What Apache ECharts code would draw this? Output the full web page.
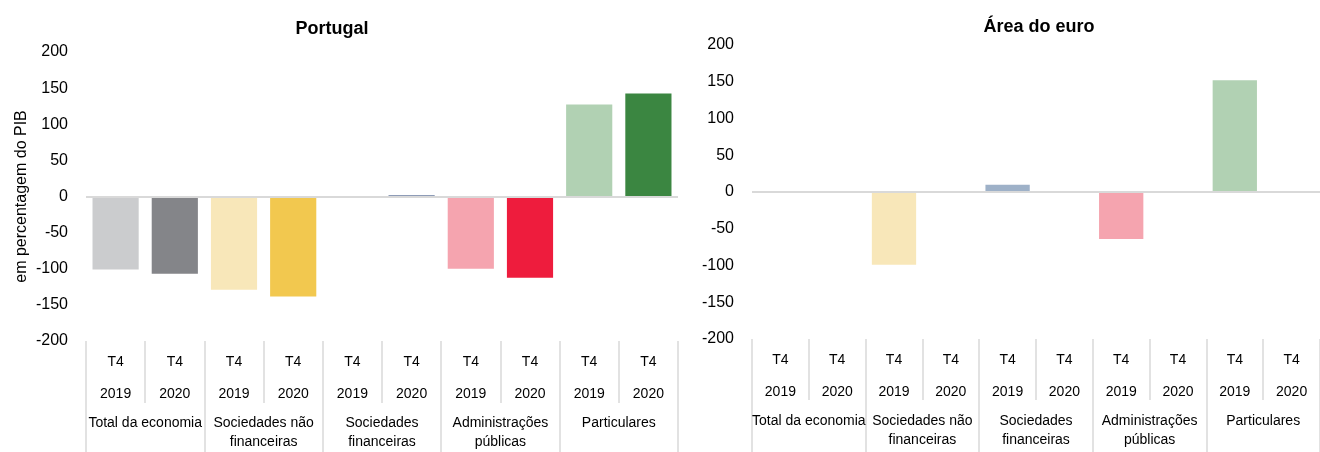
<!DOCTYPE html>
<html>
<head>
<meta charset="utf-8">
<title>Portugal / Área do euro</title>
<script src="https://cdn.jsdelivr.net/npm/echarts@6/dist/echarts.min.js"></script>
<style>
    html, body { margin: 0; padding: 0; background: #fff; }
    #chart { width: 1320px; height: 452px; }
</style>
</head>
<body>
<div id="chart"></div>
<script>
// dados
var sectors = ['Total da economia', 'Sociedades não\nfinanceiras', 'Sociedades\nfinanceiras', 'Administrações\npúblicas', 'Particulares'];
var quarters = ['T4', 'T4', 'T4', 'T4', 'T4', 'T4', 'T4', 'T4', 'T4', 'T4'];
var years = ['2019', '2020', '2019', '2020', '2019', '2020', '2019', '2020', '2019', '2020'];
var portugalValues = [-101, -107, -129, -138.5, null, 1.5, -100, -112.5, 127.5, 142.5];
var euroValues = [null, null, -99, null, 10, null, -64, null, 152, null];
var barColors = ['#CBCCCE', '#848589', '#F8E7B9', '#F2C84F', '#9EB1C8', '#1F3B70', '#F5A4AF', '#EE1C3D', '#B1D1B3', '#3B8641'];
var yTicks = { min: -200, max: 200, interval: 50 };

var narrow = "'Liberation Sans Narrow', 'Arial Narrow', 'Liberation Sans', Arial, sans-serif";
var regular = "'Liberation Sans', Arial, sans-serif";
var sepColor = '#D9D9D9';

var chart = echarts.init(document.getElementById('chart'));

// categoria: "T4" / ano em duas linhas
var catLabels = quarters.map(function (q, i) { return q + '\n' + years[i]; });

function xAxesFor(gridIndex, shortTick) {
    return [
        {
            gridIndex: gridIndex,
            type: 'category',
            position: 'bottom',
            data: catLabels,
            axisLine: { show: false, onZero: false },
            axisTick: { show: true, length: shortTick, lineStyle: { color: sepColor, width: 1.5 } },
            axisLabel: {
                interval: 0,
                margin: 5,
                color: '#000',
                fontFamily: narrow,
                fontSize: 14,
                lineHeight: 32
            }
        },
        {
            gridIndex: gridIndex,
            type: 'category',
            position: 'bottom',
            data: sectors,
            axisLine: { show: false, onZero: false },
            axisTick: { show: true, length: 130, lineStyle: { color: sepColor, width: 1.5 } },
            axisLabel: {
                interval: 0,
                margin: 73,
                color: '#000',
                fontFamily: narrow,
                fontSize: 14,
                lineHeight: 19
            }
        }
    ];
}

function yAxisFor(gridIndex, withName) {
    var ax = {
        gridIndex: gridIndex,
        type: 'value',
        min: yTicks.min,
        max: yTicks.max,
        interval: yTicks.interval,
        axisLine: { show: false },
        axisTick: { show: false },
        splitLine: { show: false },
        axisLabel: { color: '#000', fontFamily: regular, fontSize: 16, margin: 18 }
    };
    if (withName) {
        ax.name = 'em percentagem do PIB';
        ax.nameLocation = 'middle';
        ax.nameRotate = 90;
        ax.nameGap = 56;
        ax.nameTextStyle = { color: '#000', fontFamily: regular, fontSize: 16 };
    }
    return ax;
}

function barSeries(values, xIdx, yIdx) {
    return {
        type: 'bar',
        xAxisIndex: xIdx,
        yAxisIndex: yIdx,
        barWidth: '78%',
        data: values.map(function (v, i) {
            return { value: v, itemStyle: { color: barColors[i] } };
        }),
        markLine: {
            silent: true,
            symbol: 'none',
            label: { show: false },
            lineStyle: { color: sepColor, width: 2, type: 'solid' },
            data: [{ yAxis: 0 }]
        },
        z: 3
    };
}

var option = {
    backgroundColor: '#fff',
    animation: false,
    title: [
        { text: 'Portugal', left: 327, top: 15, textAlign: 'center',
          textStyle: { fontFamily: regular, fontSize: 18, fontWeight: 'bold', color: '#000' } },
        { text: 'Área do euro', left: 1034, top: 13, textAlign: 'center',
          textStyle: { fontFamily: regular, fontSize: 18, fontWeight: 'bold', color: '#000' } }
    ],
    grid: [
        { left: 86, top: 52, width: 592, height: 294 },
        { left: 752, top: 45, width: 577, height: 294 }
    ],
    xAxis: xAxesFor(0, 62).concat(xAxesFor(1, 61)),
    yAxis: [yAxisFor(0, true), yAxisFor(1, false)],
    series: [
        barSeries(portugalValues, 0, 0),
        barSeries(euroValues, 2, 1)
    ]
};

chart.setOption(option);
</script>
</body>
</html>
